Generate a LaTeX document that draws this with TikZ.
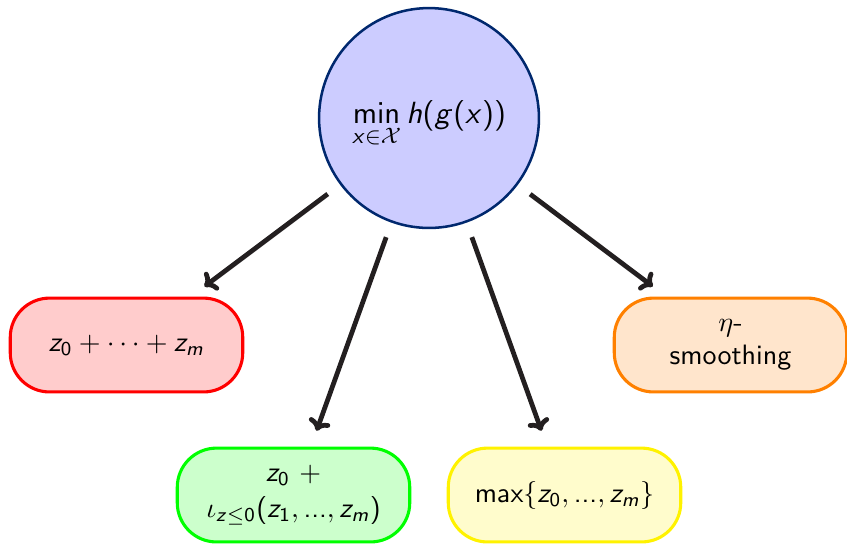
\documentclass[tikz,border=0pt]{standalone}
\usetikzlibrary{arrows.meta}
\DeclareSymbolFont{sfletters}{OT1}{cmss}{m}{sl}
\SetSymbolFont{operators}{normal}{OT1}{cmss}{m}{n}
\DeclareMathSymbol{x}{\mathalpha}{sfletters}{`x}
\DeclareMathSymbol{h}{\mathalpha}{sfletters}{`h}
\DeclareMathSymbol{g}{\mathalpha}{sfletters}{`g}
\DeclareMathSymbol{z}{\mathalpha}{sfletters}{`z}
\DeclareMathSymbol{m}{\mathalpha}{sfletters}{`m}
\newcommand{\tdots}{\mbox{\sffamily...}}
\definecolor{circborder}{RGB}{0,40,110}
\definecolor{arrowcol}{RGB}{35,31,32}
\tikzset{
  leaf/.style={rectangle, rounded corners=14pt, minimum width=83pt, minimum height=33.5pt,
    line width=1.1pt, align=center, font=\sffamily, inner sep=2pt},
  arr/.style={-{To[length=4pt,width=8pt]}, line width=1.7pt, draw=arrowcol,
    shorten <=5.5pt, shorten >=6pt}
}
\begin{document}
\begin{tikzpicture}[x=0.357pt,y=-0.357pt]
\useasboundingbox (0,0) rectangle (847,545);
\node[circle, minimum size=78.5pt, fill=blue!20, draw=circborder, line width=0.9pt,
  font=\sffamily\fontsize{10.9}{13}\selectfont]
  (c) at (429,118) {\raisebox{-2pt}[\height][\depth]{$\displaystyle\min_{x\in\mathcal{X}} h(g(x))$}};
\node[leaf, draw=red, fill=red!20] (r) at (126.5,345) {$z_0+\cdots+z_m$};
\node[leaf, draw=green, fill=green!20] (gr) at (293.5,495) {$z_0\ +$\\[1pt] $\iota_{z\leq 0}(z_1,\tdots,z_m)$};
\node[leaf, draw=yellow, fill=yellow!20] (y) at (564.5,495) {$\max\{z_0,\tdots,z_m\}$};
\node[leaf, draw=orange, fill=orange!20] (o) at (730.5,345) {$\eta$-\\smoothing};
\draw[arr] (c) -- (r);
\draw[arr] (c) -- (gr);
\draw[arr] (c) -- (y);
\draw[arr] (c) -- (o);
\end{tikzpicture}
\end{document}
